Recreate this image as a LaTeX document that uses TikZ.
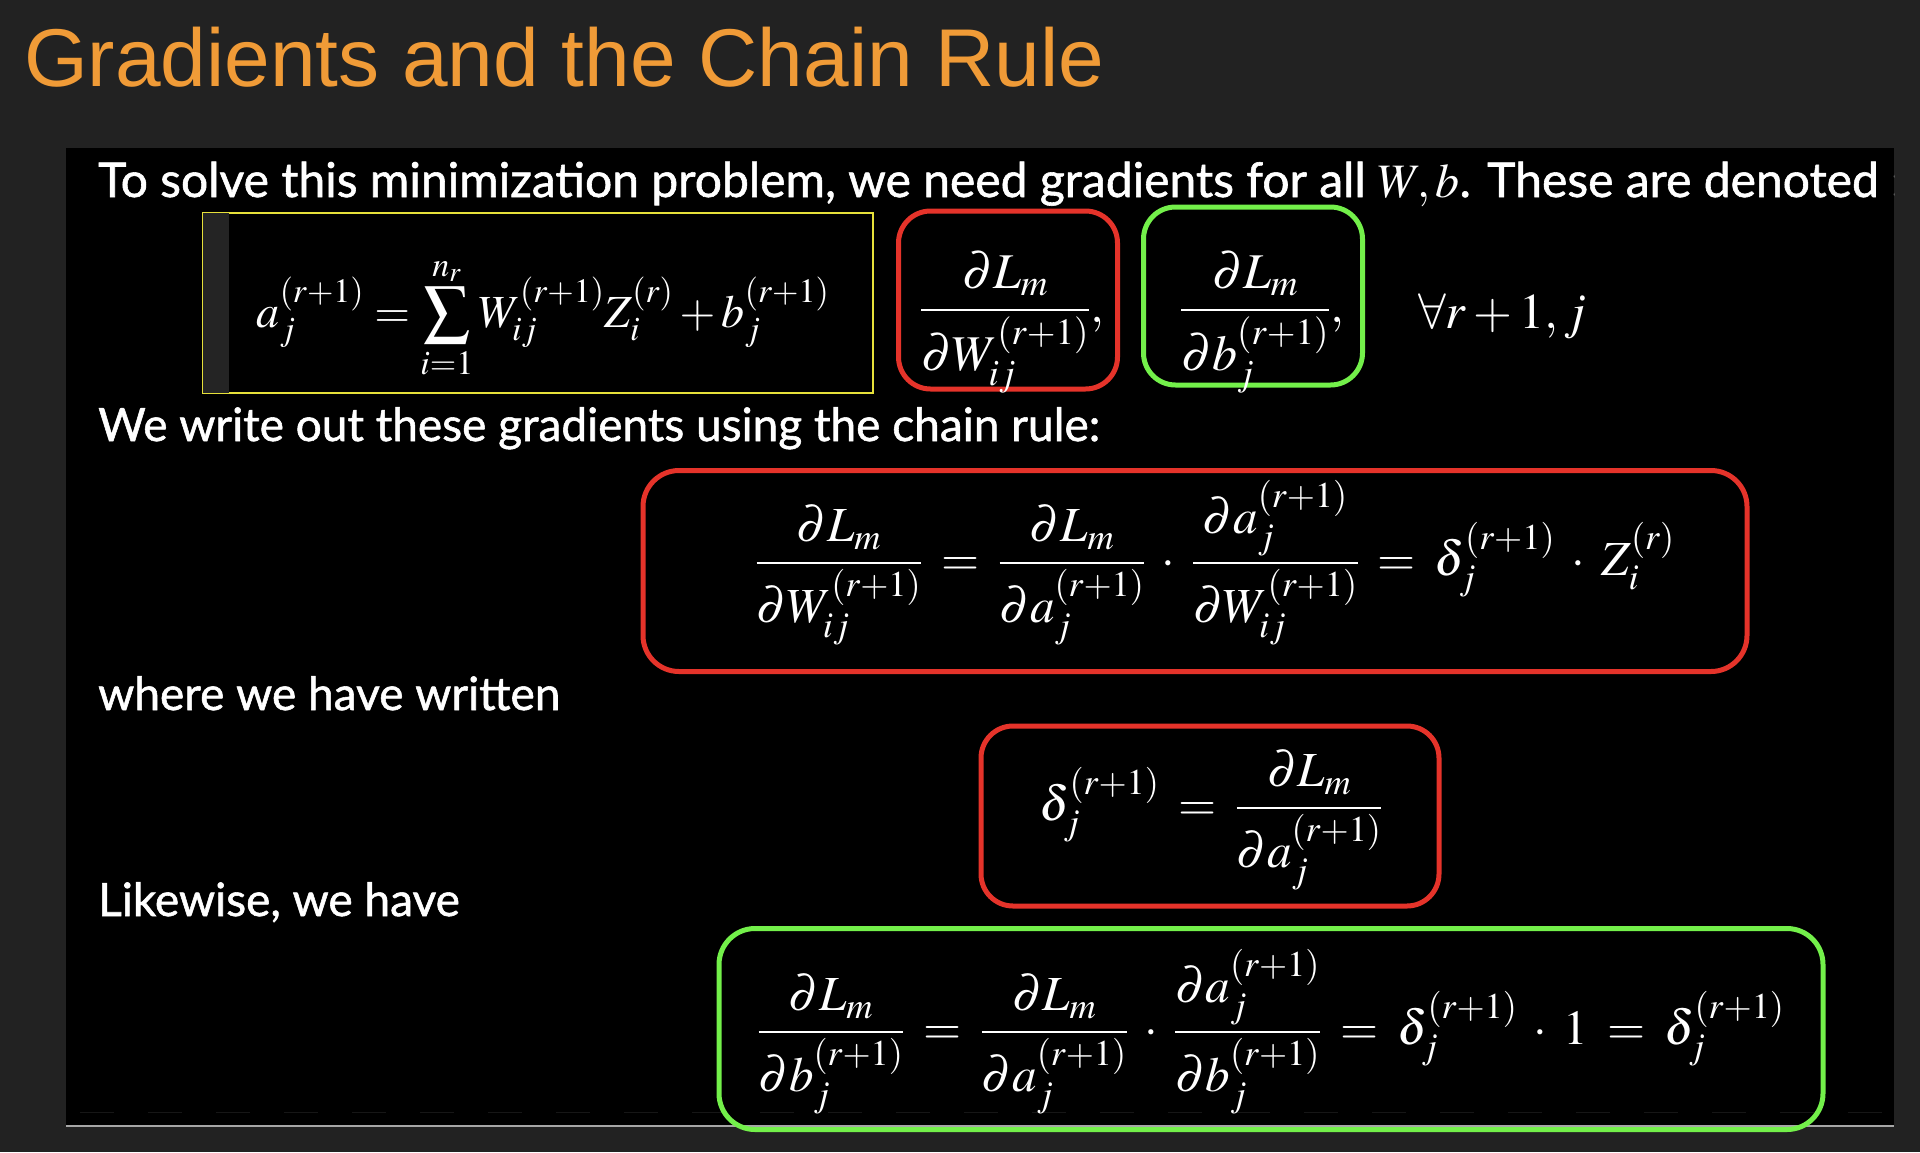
\documentclass[tikz,border=0pt]{standalone}
\usepackage{amsmath}
\usepackage{mathptmx}
\usepackage[no-math]{fontspec}
\newfontfamily\gillfont[FakeBold=1.2]{Lato}
\newfontfamily\headfont{Liberation Sans}
\definecolor{slidebg}{RGB}{34,34,34}
\definecolor{headorange}{RGB}{240,155,55}
\definecolor{boxred}{RGB}{229,51,42}
\definecolor{boxgreen}{RGB}{115,240,74}
\definecolor{boxyellow}{RGB}{230,224,58}
\definecolor{stripgray}{RGB}{36,36,36}
\definecolor{fadegray}{RGB}{22,22,22}
\newcommand{\topeqsize}{\fontsize{50}{60}\selectfont}
\newcommand{\fwdeqsize}{\fontsize{46}{56}\selectfont}
\newcommand{\eqsize}{\fontsize{49}{59}\selectfont\thickmuskip=7mu plus 3mu\medmuskip=6mu plus 2mu}
\newcommand{\rp}{(r+1)}

\tikzset{
  headline/.style={font=\headfont\fontsize{82}{96}\selectfont, text=headorange, inner sep=0pt},
  bodyline/.style={font=\gillfont\fontsize{46}{54}\selectfont, text=white, inner sep=0pt},
  eqbox/.style={draw, line width=5pt, rounded corners=32pt, inner sep=0pt},
  redbox/.style={eqbox, draw=boxred},
  greenbox/.style={eqbox, draw=boxgreen},
  mathline/.style={text=white, inner sep=0pt, anchor=base},
}

\begin{document}
\begin{tikzpicture}[x=1pt, y=-1pt]
    \useasboundingbox (0,0) rectangle (1920,1152);
    \fill[slidebg] (0,0) rectangle (1920,1152);
    \fill[black] (66,148) rectangle (1894,1126);
    \draw[gray!70, line width=2pt] (66,1126) -- (1894,1126);
    \draw[fadegray, line width=1pt, dash pattern=on 34pt off 34pt] (80,1112) -- (1890,1112);

    \node[headline, anchor=base west] (title) at (24,86) {Gradients and the Chain Rule};
    \begin{scope}
      \clip (66,148) rectangle (1894,1126);
      \node[bodyline, font=\gillfont\fontsize{48}{56}\selectfont, anchor=base west] (intro) at (98,197) {To solve this minimization problem, we need gradients for all $W, b$. These are denoted :};
    \end{scope}

    % yellow box with the forward pass
    \node[draw=boxyellow, line width=1.5pt, minimum width=670pt, minimum height=180pt, inner sep=0pt] (fwd) at (538,303) {};
    \fill[stripgray] ([shift={(1pt,-1pt)}]fwd.north west) rectangle ([shift={(27pt,1pt)}]fwd.south west);
    \node[mathline, font=\fwdeqsize] (fwdeq) at (543,327)
      {$\displaystyle a_j^{\rp} = \sum_{i=1}^{n_r} W_{ij}^{\rp} Z_i^{(r)} + b_j^{\rp}$};

    \node[redbox, minimum width=219pt, minimum height=178pt] (gradW) at (1008,300) {};
    \node[mathline, font=\topeqsize] (gradWeq) at (1012,322)
      {$\displaystyle \frac{\partial L_m}{\partial W_{ij}^{\rp}},$};
    \node[greenbox, minimum width=219pt, minimum height=178pt] (gradb) at (1253,296) {};
    \node[mathline, font=\topeqsize] (gradbeq) at (1262,322)
      {$\displaystyle \frac{\partial L_m}{\partial b_{j}^{\rp}},$};
    \node[mathline, font=\topeqsize, anchor=base west] (forall) at (1418,328) {$\forall r+1, j$};

    \node[bodyline, anchor=base west] (chain) at (98,441) {We write out these gradients using the chain rule:};
    \node[redbox, minimum width=1104pt, minimum height=201pt, rounded corners=36pt] (chainW) at (1195,571) {};
    \node[mathline, font=\eqsize] (chainWeq) at (1215,575)
      {$\displaystyle \frac{\partial L_m}{\partial W_{ij}^{\rp}} = \frac{\partial L_m}{\partial a_j^{\rp}} \cdot \frac{\partial a_j^{\rp}}{\partial W_{ij}^{\rp}} = \delta_j^{\rp} \cdot Z_i^{(r)}$};

    \node[bodyline, anchor=base west] (written) at (98,710) {where we have written};
    \node[redbox, minimum width=458pt, minimum height=180pt] (delta) at (1210,816) {};
    \node[mathline, font=\eqsize] (deltaeq) at (1211,820)
      {$\displaystyle \delta_j^{\rp} = \frac{\partial L_m}{\partial a_j^{\rp}}$};

    \node[bodyline, anchor=base west] (likewise) at (98,916) {Likewise, we have};
    \node[greenbox, minimum width=1104pt, minimum height=201pt, rounded corners=36pt] (chainb) at (1271,1029) {};
    \node[mathline, font=\eqsize] (chainbeq) at (1271,1044)
      {$\displaystyle \frac{\partial L_m}{\partial b_j^{\rp}} = \frac{\partial L_m}{\partial a_j^{\rp}} \cdot \frac{\partial a_j^{\rp}}{\partial b_j^{\rp}} = \delta_j^{\rp} \cdot 1 = \delta_j^{\rp}$};
\end{tikzpicture}
\end{document}
